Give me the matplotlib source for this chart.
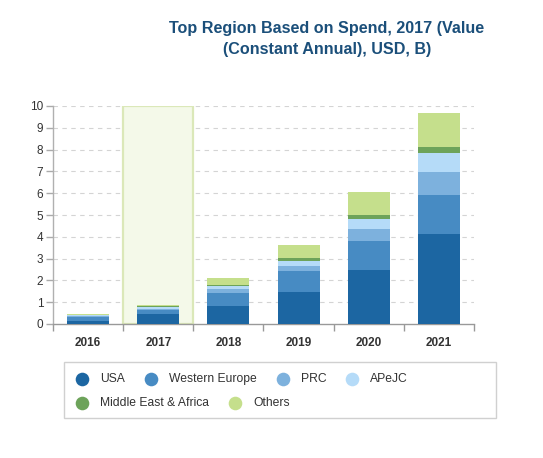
import matplotlib
matplotlib.use('Agg')
import matplotlib.pyplot as plt
from matplotlib.patches import Rectangle
import numpy as np

plt.rcParams['font.family'] = ['Liberation Sans', 'DejaVu Sans']

# Data (USD, B)
years = ['2016', '2017', '2018', '2019', '2020', '2021']
regions = ['USA', 'Western Europe', 'PRC', 'APeJC', 'Middle East & Africa', 'Others']
usa = [0.15, 0.44, 0.84, 1.46, 2.47, 4.12]
western_europe = [0.18, 0.20, 0.59, 0.95, 1.34, 1.81]
prc = [0.04, 0.07, 0.18, 0.27, 0.56, 1.05]
apejc = [0.03, 0.07, 0.14, 0.22, 0.45, 0.86]
mea = [0.03, 0.05, 0.05, 0.12, 0.16, 0.27]
others = [0.04, 0.05, 0.31, 0.59, 1.06, 1.59]
highlight_year = '2017'

colors = ['#1c66a2', '#478bc3', '#7db1dd', '#b5dbf8', '#6da35a', '#c5df8c']
series = [usa, western_europe, prc, apejc, mea, others]

W, H = 543, 458
fig = plt.figure(figsize=(W / 100, H / 100), dpi=100)
ax = fig.add_axes([53 / W, 1 - 324 / H, (474 - 53) / W, (324 - 106) / H])

x = np.arange(len(years))

# highlighted column
hi = years.index(highlight_year)
ax.add_patch(Rectangle((hi - 0.5, 0), 1, 10, facecolor='#f4f9e9',
                       edgecolor='#dbe8b9', linewidth=1.6, zorder=1))

bottom = np.zeros(len(years))
for vals, c, name in zip(series, colors, regions):
    ax.bar(x, vals, width=0.6, bottom=bottom, color=c, label=name, zorder=3)
    bottom += np.array(vals)

ax.set_xlim(-0.5, len(years) - 0.5)
ax.set_ylim(0, 10)
ax.set_yticks(range(0, 11))
ax.set_xticks(x)
ax.set_xticklabels(years, fontweight='bold', fontsize=8.5, color='#333333')
ax.set_xticks(np.arange(-0.5, len(years)), minor=True)
ax.tick_params(axis='x', which='major', length=0, pad=9)
ax.tick_params(axis='x', which='minor', length=5, color='#999999', width=1)
ax.tick_params(axis='y', length=5, color='#aaaaaa', width=1, labelsize=8.5,
               labelcolor='#333333', pad=2)

for v in range(1, 11):
    ax.axhline(v, color='#d4d4d4', linestyle=(0, (4, 4)), linewidth=0.8, zorder=0)

for s in ['top', 'right']:
    ax.spines[s].set_visible(False)
ax.spines['left'].set_color('#b0b0b0')
ax.spines['bottom'].set_color('#999999')
ax.spines['left'].set_linewidth(1)
ax.spines['bottom'].set_linewidth(1)

fig.text(327 / W, 1 - 39 / H, 'Top Region Based on Spend, 2017 (Value\n(Constant Annual), USD, B)',
         ha='center', va='center', fontsize=11.6, fontweight='bold', color='#1b4f7a',
         linespacing=1.45)

# custom flow legend
lax = fig.add_axes([0, 0, 1, 1])
lax.set_xlim(0, W)
lax.set_ylim(H, 0)
lax.axis('off')
lax.add_patch(Rectangle((64, 362), 432, 56, facecolor='none', edgecolor='#d0d0d0', linewidth=1))
fig.canvas.draw()
renderer = fig.canvas.get_renderer()
rows = [regions[:4], regions[4:]]
row_y = [379, 403]
for row, yy in zip(rows, row_y):
    mx = 82
    for name in row:
        c = colors[regions.index(name)]
        lax.plot(mx, yy, 'o', markersize=9.8, color=c, markeredgewidth=0)
        t = lax.text(mx + 18, yy, name, va='center', ha='left', fontsize=8.7, color='#333333')
        bb = t.get_window_extent(renderer=renderer)
        mx = mx + 18 + bb.width + 26

fig.savefig('out.png', dpi=100, facecolor='white')
